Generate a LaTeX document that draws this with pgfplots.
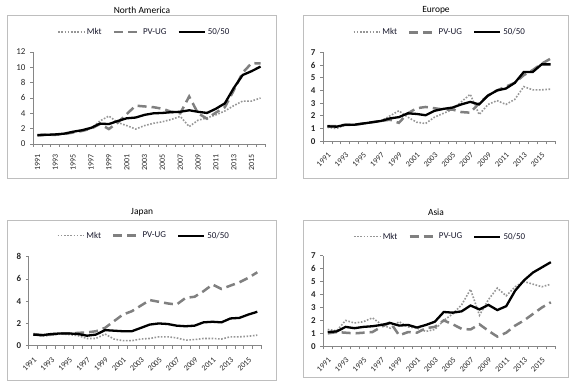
\documentclass[border=0pt]{standalone}
\usepackage{fontspec}
\setmainfont{Carlito}
\usepackage{pgfplots}
\pgfplotsset{compat=1.18}
\usepackage{pgfplotstable}

\pgfplotstableread{
year mkt pv ff
1991 1.10 1.10 1.18
1992 1.20 1.20 1.20
1993 1.20 1.20 1.25
1994 1.40 1.30 1.35
1995 1.60 1.50 1.60
1996 1.80 1.70 1.80
1997 2.00 2.00 2.10
1998 3.00 2.60 2.66
1999 3.65 1.95 2.60
2000 2.80 2.80 3.00
2001 2.40 3.90 3.35
2002 1.95 5.00 3.45
2003 2.40 4.90 3.80
2004 2.70 4.80 4.00
2005 2.90 4.60 4.05
2006 3.20 4.20 4.15
2007 3.60 4.00 4.20
2008 2.27 6.20 4.40
2009 3.10 4.00 4.20
2010 3.40 3.30 4.05
2011 3.80 4.10 4.60
2012 4.30 4.80 5.30
2013 5.00 7.00 7.30
2014 5.60 9.30 9.00
2015 5.60 10.55 9.50
2016 6.00 10.50 10.10
}\dataNA

\pgfplotstableread{
year mkt pv ff
1991 1.10 1.20 1.18
1992 1.00 1.20 1.15
1993 1.30 1.30 1.30
1994 1.30 1.30 1.30
1995 1.35 1.40 1.40
1996 1.50 1.50 1.50
1997 1.60 1.60 1.60
1998 2.00 1.70 1.80
1999 2.40 1.45 1.90
2000 1.90 2.20 2.20
2001 1.50 2.60 2.15
2002 1.40 2.70 2.05
2003 1.90 2.60 2.40
2004 2.20 2.50 2.55
2005 2.50 2.50 2.65
2006 3.10 2.30 2.90
2007 3.70 2.25 3.10
2008 2.10 3.00 2.90
2009 2.90 3.60 3.60
2010 3.20 4.00 4.00
2011 2.90 4.30 4.15
2012 3.30 4.60 4.60
2013 4.30 5.20 5.45
2014 4.05 5.60 5.45
2015 4.05 6.10 6.05
2016 4.10 6.50 6.05
}\dataEU

\pgfplotstableread{
year mkt pv ff
1991 1.00 1.05 1.00
1992 0.85 0.95 0.95
1993 0.95 1.00 1.05
1994 1.05 1.10 1.10
1995 1.00 1.10 1.10
1996 0.90 1.15 1.05
1997 0.65 1.20 0.90
1998 0.65 1.30 1.00
1999 1.05 1.60 1.40
2000 0.60 2.20 1.35
2001 0.45 2.80 1.30
2002 0.45 3.10 1.30
2003 0.60 3.60 1.60
2004 0.65 4.10 1.90
2005 0.80 3.95 2.00
2006 0.80 3.80 1.95
2007 0.70 3.70 1.80
2008 0.50 4.30 1.75
2009 0.55 4.40 1.80
2010 0.65 4.90 2.10
2011 0.65 5.50 2.15
2012 0.60 5.10 2.10
2013 0.80 5.40 2.45
2014 0.80 5.70 2.50
2015 0.85 6.10 2.80
2016 0.95 6.60 3.05
}\dataJP

\pgfplotstableread{
year mkt pv ff
1991 1.30 1.00 1.10
1992 1.20 1.10 1.15
1993 2.00 1.05 1.50
1994 1.80 1.00 1.40
1995 1.90 1.05 1.50
1996 2.20 1.10 1.55
1997 1.70 1.50 1.65
1998 1.40 1.85 1.80
1999 1.90 0.85 1.60
2000 1.50 1.10 1.65
2001 1.40 1.05 1.45
2002 1.15 1.40 1.65
2003 1.30 1.50 1.90
2004 2.00 2.00 2.65
2005 2.50 1.70 2.60
2006 3.20 1.35 2.70
2007 4.40 1.30 3.15
2008 2.40 1.70 2.85
2009 3.60 1.20 3.20
2010 4.50 0.75 2.80
2011 3.90 1.05 3.10
2012 4.60 1.60 4.30
2013 5.00 2.00 5.10
2014 4.80 2.50 5.70
2015 4.60 3.00 6.10
2016 4.80 3.40 6.50
}\dataAS

\definecolor{mktc}{RGB}{150,150,150}
\definecolor{pvc}{RGB}{128,128,128}
\definecolor{framec}{RGB}{190,190,190}
\definecolor{axc}{RGB}{134,134,134}
\definecolor{txtc}{RGB}{40,40,40}
\definecolor{legc}{RGB}{25,25,45}

\pgfplotsset{
  panel/.style={
    scale only axis,
    xmin=1990.5, xmax=2016.5, ymin=0,
    axis x line*=bottom, axis y line*=left,
    axis line style={draw=axc, line width=0.75bp},
    xtick={1991,1993,...,2015},
    minor xtick={1990.5,1991.5,...,2016.5},
    major tick length=0pt, minor tick length=3bp,
    tick align=outside,
    tick style={draw=axc, line width=0.75bp},
    /pgf/number format/assume math mode=true,
    /pgf/number format/set thousands separator={},
    tick label style={font=\fontsize{9}{10}\selectfont, text=txtc},
    xticklabel style={font=\fontsize{8}{9}\selectfont},
    yticklabel shift=4bp,
    legend style={draw=none, fill=none, legend columns=-1,
      font=\fontsize{9}{10}\selectfont, text=legc,
      /tikz/every even column/.append style={column sep=9bp}},
    legend image code/.code={\draw[##1] (0bp,0bp) -- (26bp,0bp);},
  },
  mkt/.style={color=mktc, line width=1.6bp, dash pattern=on 1.6bp off 1.6bp, mark=none},
  pv/.style={color=pvc, line width=2.5bp, dash pattern=on 9bp off 5bp, mark=none},
  ff/.style={color=black, line width=2.3bp, mark=none},
}

\begin{document}
\begin{tikzpicture}
\path[use as bounding box] (0,0) rectangle (578bp,389bp);
% frames
\draw[framec, line width=0.75bp] (7.3bp,374bp) rectangle (276.7bp,210.7bp);
\draw[framec, line width=0.75bp] (303.3bp,374bp) rectangle (568.3bp,210.7bp);
\draw[framec, line width=0.75bp] (7.3bp,169bp) rectangle (276.7bp,9bp);
\draw[framec, line width=0.75bp] (303.3bp,169bp) rectangle (568.3bp,11.3bp);
% titles
\node[font=\fontsize{9.5}{11}\selectfont] at (142bp,379bp) {North America};
\node[font=\fontsize{9.5}{11}\selectfont] at (436bp,379bp) {Europe};
\node[font=\fontsize{9.5}{11}\selectfont] at (142bp,177bp) {Japan};
\node[font=\fontsize{9.5}{11}\selectfont] at (436bp,177bp) {Asia};

% North America
\begin{axis}[panel, at={(33bp,245bp)}, anchor=south west,
  width=232bp, height=92bp, ymax=12, ytick={0,2,...,12}, minor ytick={0,2,...,12},
  xticklabel style={rotate=90, anchor=east}, xticklabel shift=7bp,
  legend style={at={(0.48,1.217)}, anchor=center}]
\addplot[mkt] table[x=year,y=mkt] {\dataNA};
\addplot[pv] table[x=year,y=pv] {\dataNA};
\addplot[ff] table[x=year,y=ff] {\dataNA};
\legend{Mkt,PV-UG,50/50}
\end{axis}

% Europe
\begin{axis}[panel, at={(323bp,247.7bp)}, anchor=south west,
  width=232bp, height=89bp, ymax=7, ytick={0,...,7}, minor ytick={0,...,7},
  yticklabel style={font=\fontsize{9}{10}\selectfont\bfseries},
  xticklabel style={rotate=45, anchor=north east}, xticklabel shift=6bp,
  legend style={at={(0.504,1.225)}, anchor=center}]
\addplot[mkt] table[x=year,y=mkt] {\dataEU};
\addplot[pv] table[x=year,y=pv] {\dataEU};
\addplot[ff] table[x=year,y=ff] {\dataEU};
\legend{Mkt,PV-UG,50/50}
\end{axis}

% Japan
\begin{axis}[panel, at={(28.8bp,43.3bp)}, anchor=south west,
  width=233bp, height=89bp, ymax=8, ytick={0,2,...,8}, minor ytick={0,2,...,8},
  yticklabel style={font=\fontsize{9}{10}\selectfont\bfseries},
  xticklabel style={rotate=45, anchor=north east}, xticklabel shift=6bp,
  legend style={at={(0.494,1.236)}, anchor=center}]
\addplot[mkt] table[x=year,y=mkt] {\dataJP};
\addplot[pv] table[x=year,y=pv] {\dataJP};
\addplot[ff] table[x=year,y=ff] {\dataJP};
\legend{Mkt,PV-UG,50/50}
\end{axis}

% Asia
\begin{axis}[panel, at={(323.3bp,42.7bp)}, anchor=south west,
  width=232bp, height=90.6bp, ymax=7, ytick={0,...,7}, minor ytick={0,...,7},
  yticklabel style={font=\fontsize{9}{10}\selectfont\bfseries},
  xticklabel style={rotate=45, anchor=north east}, xticklabel shift=6bp,
  legend style={at={(0.504,1.21)}, anchor=center}]
\addplot[mkt] table[x=year,y=mkt] {\dataAS};
\addplot[pv] table[x=year,y=pv] {\dataAS};
\addplot[ff] table[x=year,y=ff] {\dataAS};
\legend{Mkt,PV-UG,50/50}
\end{axis}
\end{tikzpicture}
\end{document}
